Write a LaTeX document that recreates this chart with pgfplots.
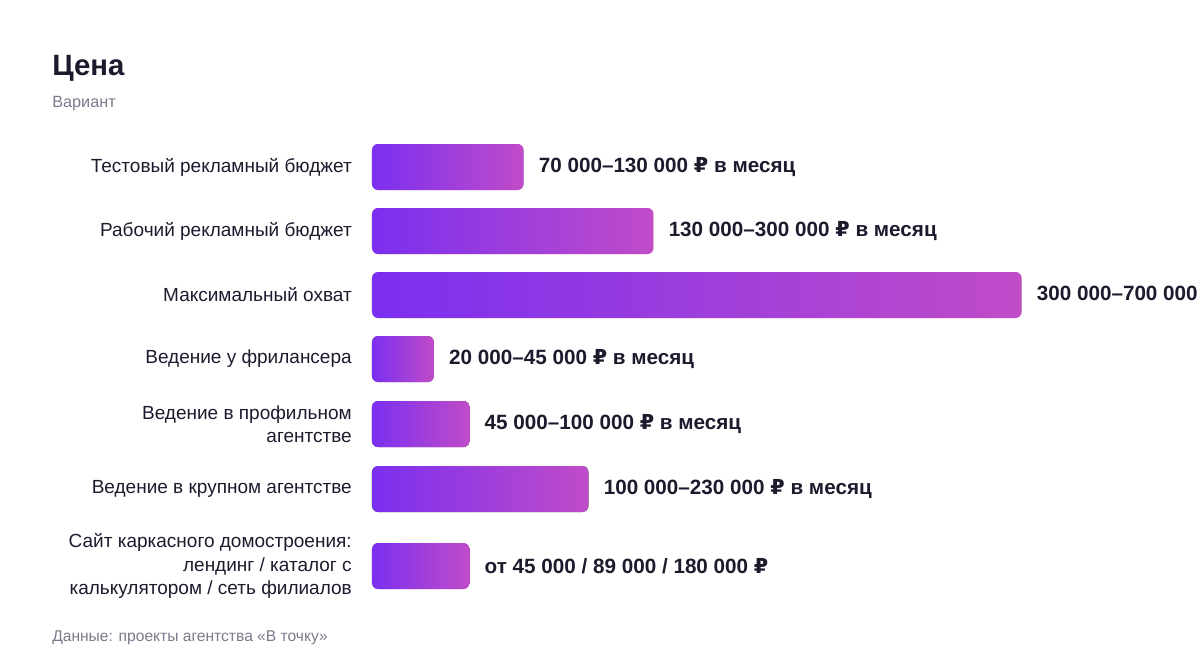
\documentclass[border=0pt]{standalone}
\usepackage{pgfplots}
\pgfplotsset{compat=1.18}
\usepackage{fontspec}
\setmainfont{Liberation Sans}
\newfontfamily\rubfont{DejaVu Sans}
\definecolor{ink}{HTML}{1C1B2E}
\definecolor{subgray}{HTML}{7A7A8C}
\definecolor{barL}{HTML}{7B2FF0}
\definecolor{barR}{HTML}{C04CC8}
\newcommand\rub{{\rubfont ₽}}
% one pixel of the 1200x648 target
\def\px{0.75pt}

\begin{document}
\begin{tikzpicture}
\path[use as bounding box] (0,0) rectangle (1200*\px,-648*\px);
% titles
\node[anchor=base west, inner sep=0pt, font=\fontsize{22}{26}\selectfont\bfseries, text=ink] at (52*\px,-76*\px) {Цена};
\node[anchor=base west, inner sep=0pt, font=\fontsize{12.2}{14}\selectfont, text=subgray] at (52*\px,-108*\px) {Вариант};
\node[anchor=base west, inner sep=0pt, font=\fontsize{11.7}{14}\selectfont, text=subgray] at (52*\px,-641*\px) {Данные: проекты агентства «В точку»};
\begin{axis}[
  at={(372*\px,-130*\px)}, anchor=north west,
  scale only axis, width=621pt, height=352.5pt,
  xmin=0, xmax=382400, ymin=130, ymax=600, y dir=reverse,
  axis line style={draw=none}, xtick=\empty,
  ytick={167,231,295,359,424,489,566},
  yticklabels={
    Тестовый рекламный бюджет,
    Рабочий рекламный бюджет,
    Максимальный охват,
    Ведение у фрилансера,
    {Ведение в профильном\\агентстве},
    Ведение в крупном агентстве,
    {Сайт каркасного домостроения:\\лендинг / каталог с\\калькулятором / сеть филиалов}
  },
  major tick length=0pt,
  yticklabel style={align=right, inner sep=0pt, xshift=-15pt,
    font=\fontsize{14.25}{17.6}\selectfont, text=ink},
  xbar, bar width=46, bar shift=0pt,
  nodes near coords, point meta=explicit symbolic,
  every node near coord/.append style={anchor=west, inner sep=0pt, xshift=11.25pt,
    font=\fontsize{15.5}{18}\selectfont\bfseries, text=ink},
  every axis plot/.append style={draw=none, left color=barL, right color=barR, rounded corners=4.5pt},
  clip=false,
]
\addplot coordinates {(70000,167)  [70 000–130 000 \rub{} в месяц]};
\addplot coordinates {(130000,231) [130 000–300 000 \rub{} в месяц]};
\addplot coordinates {(300000,295) [300 000–700 000 \rub{} в месяц]};
\addplot coordinates {(28600,359)  [20 000–45 000 \rub{} в месяц]};
\addplot coordinates {(45000,424)  [45 000–100 000 \rub{} в месяц]};
\addplot coordinates {(100000,489) [100 000–230 000 \rub{} в месяц]};
\addplot coordinates {(45000,566)  [от 45 000 / 89 000 / 180 000 \rub]};
\end{axis}
\end{tikzpicture}
\end{document}
